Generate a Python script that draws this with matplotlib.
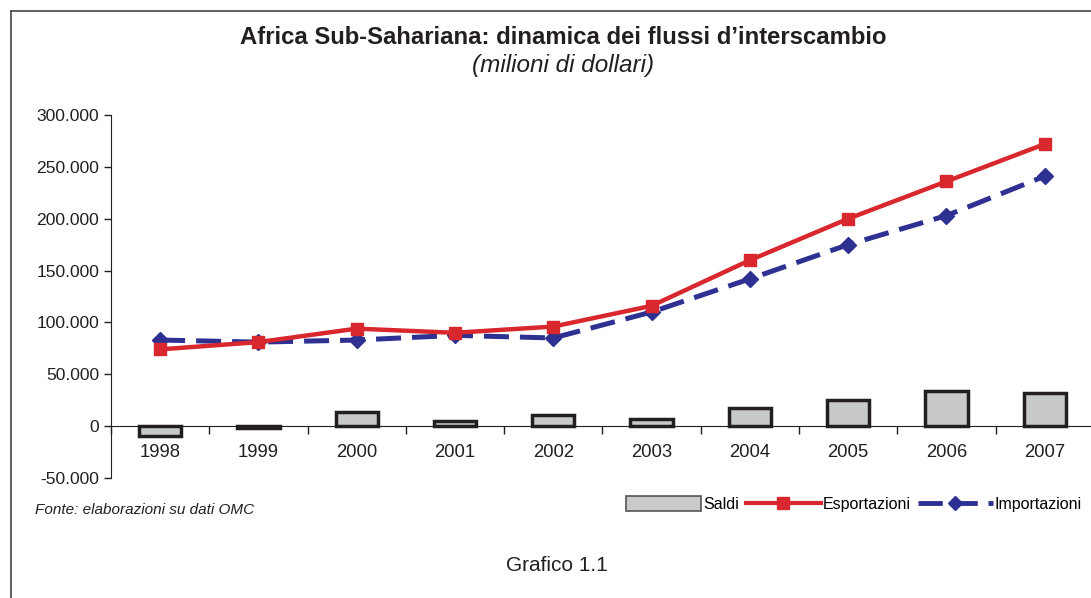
import matplotlib
matplotlib.use("Agg")
import matplotlib.pyplot as plt
from matplotlib.patches import Patch
from matplotlib.lines import Line2D
from matplotlib.ticker import FuncFormatter, FixedLocator
import numpy as np

plt.rcParams['font.family'] = ['Liberation Sans', 'DejaVu Sans']

# ── dati (milioni di dollari) ───────────────────────────
anni = ['1998', '1999', '2000', '2001', '2002', '2003', '2004', '2005', '2006', '2007']
esportazioni = [74000, 81000, 94000, 90000, 96000, 116000, 160000, 200000, 236000, 272000]
importazioni = [83000, 81000, 83000, 87500, 85000, 110000, 142000, 175000, 203000, 241000]
saldi = [-10000, -1500, 13500, 4500, 10500, 6500, 17000, 25000, 33500, 31500]

ROSSO = '#d9272e'
BLU = '#2e3192'
GRIGIO = '#c8c9cb'

fig = plt.figure(figsize=(10.91, 5.98), dpi=100, facecolor='white')
ax = fig.add_axes([0.1017, 0.2007, 0.901, 0.607])

x = np.arange(len(anni))
ax.bar(x, saldi, width=0.43, color=GRIGIO, edgecolor='#231f20', linewidth=2.5, zorder=2)
ax.plot(x, esportazioni, color=ROSSO, lw=3.2, marker='s', ms=8, zorder=4)
ax.plot(x, importazioni, color=BLU, lw=3.6, marker='D', ms=8, dashes=(5, 2.2), zorder=3)

ax.set_xlim(-0.5, len(anni) - 0.5)
ax.set_ylim(-50000, 300000)
ax.set_yticks(np.arange(-50000, 300001, 50000))
ax.yaxis.set_major_formatter(FuncFormatter(lambda v, p: f'{int(v):,}'.replace(',', '.')))
ax.tick_params(axis='y', labelsize=12.6, length=5, width=1, color='#231f20', labelcolor='#231f20')

# asse x sullo zero, tacche ai bordi delle categorie
ax.spines['bottom'].set_position(('data', 0))
ax.spines[['top', 'right']].set_visible(False)
ax.spines['left'].set_color('#231f20')
ax.spines['bottom'].set_color('#231f20')
ax.xaxis.set_major_locator(FixedLocator(np.arange(-0.5, len(anni), 1.0)))
ax.xaxis.set_minor_locator(FixedLocator(x))
ax.set_xticklabels([])
ax.set_xticklabels(anni, minor=True)
ax.tick_params(axis='x', which='major', length=6, width=1, color='#231f20')
ax.tick_params(axis='x', which='minor', length=0, labelsize=13.3, pad=13, labelcolor='#231f20')

# titoli
fig.text(0.516, 0.937, 'Africa Sub-Sahariana: dinamica dei flussi d\u2019interscambio',
         ha='center', va='center', fontsize=17.2, fontweight='bold', color='#231f20')
fig.text(0.516, 0.890, '(milioni di dollari)', ha='center', va='center',
         fontsize=17.5, style='italic', color='#231f20')

# legenda
handles = [
    Patch(facecolor=GRIGIO, edgecolor='#555555', linewidth=1.2),
    Line2D([], [], color=ROSSO, lw=3, marker='s', ms=8),
    Line2D([], [], color=BLU, lw=3.5, marker='D', ms=7, dashes=(5, 2.2)),
]
fig.legend(handles, ['Saldi', 'Esportazioni', 'Importazioni'], ncol=3,
           loc='center right', bbox_to_anchor=(1.0, 0.157), frameon=False,
           fontsize=11.5, handlelength=4.7, handletextpad=0.1, columnspacing=0.45,
           handleheight=1.0, borderaxespad=0.2)

fig.text(0.032, 0.147, 'Fonte: elaborazioni su dati OMC', ha='left', va='center',
         fontsize=11, style='italic', color='#231f20')
fig.text(0.510, 0.054, 'Grafico 1.1', ha='center', va='center', fontsize=15, color='#231f20')

# cornice
fig.add_artist(Line2D([0.0101, 1.0], [0.9816, 0.9816], color='#444444', lw=1.2, transform=fig.transFigure))
fig.add_artist(Line2D([0.0101, 0.0101], [0.0, 0.9816], color='#444444', lw=1.2, transform=fig.transFigure))

fig.savefig('out.png', dpi=100, facecolor='white')
